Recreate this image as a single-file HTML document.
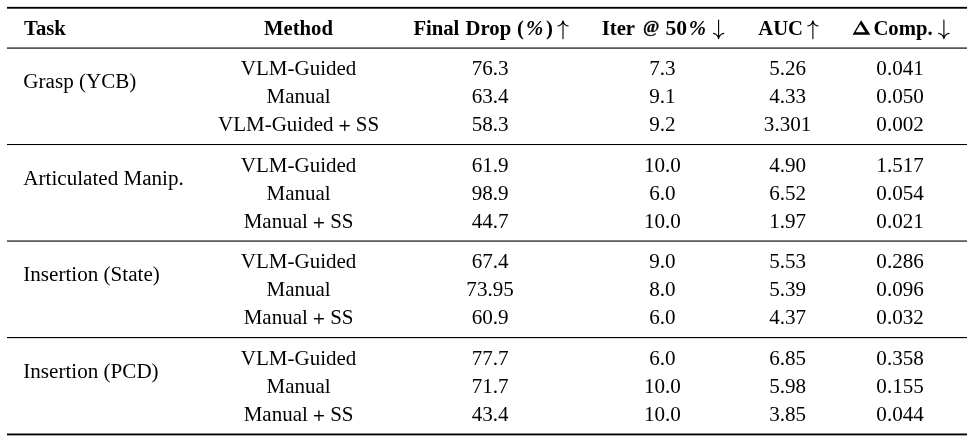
<!DOCTYPE html>
<html><head><meta charset="utf-8"><title>Table</title><style>
html,body{margin:0;padding:0;background:#fff;}
body{width:970px;height:436px;position:relative;overflow:hidden;font-family:"Liberation Serif",serif;font-size:20.85px;line-height:1;color:#000;}
.t{position:absolute;white-space:nowrap;}
.c{transform:translateX(-50%);}
.b{font-weight:bold;font-size:20.7px;}

.at{font-size:17.6px;position:relative;top:-3.2px;-webkit-text-stroke:0.3px #000;}.n5{font-size:21.6px;}.p{position:relative;top:2px;-webkit-text-stroke:0.3px #000;}.m{font-size:21px;}
.k{font-size:21.1px;}.n{font-size:21.1px;}
svg{position:absolute;left:0;top:0;}
#w{position:absolute;left:0;top:0;width:970px;height:436px;will-change:transform;}
</style></head>
<body><div id="w">
<svg width="970" height="436" viewBox="0 0 970 436">
<rect x="7" y="6.85" width="960" height="1.85" fill="#000"/>
<rect x="7" y="47.45" width="960" height="1.28" fill="#1a1a1a"/>
<rect x="7" y="144.0" width="960" height="1.05" fill="#000"/>
<rect x="7" y="240.45" width="960" height="1.25" fill="#1a1a1a"/>
<rect x="7" y="337.0" width="960" height="1.15" fill="#000"/>
<rect x="7" y="433.5" width="960" height="1.85" fill="#000"/>
<path d="M563.00 20.70 L561.90 23.70 L564.10 23.70 Z" fill="#000"/>
<path d="M563.00 21.10 L563.00 38.70 M557.80 26.00 C560.20 25.50 562.50 23.30 563.00 20.80 C563.50 23.30 565.80 25.50 568.20 26.00" fill="none" stroke="#000" stroke-width="1.1" stroke-linecap="round" stroke-linejoin="round"/>
<path d="M718.60 38.70 L717.50 35.70 L719.70 35.70 Z" fill="#000"/>
<path d="M718.60 20.00 L718.60 38.30 M713.40 33.40 C715.80 33.90 718.10 36.10 718.60 38.60 C719.10 36.10 721.40 33.90 723.80 33.40" fill="none" stroke="#000" stroke-width="1.1" stroke-linecap="round" stroke-linejoin="round"/>
<path d="M812.90 20.70 L811.80 23.70 L814.00 23.70 Z" fill="#000"/>
<path d="M812.90 21.10 L812.90 38.70 M807.70 26.00 C810.10 25.50 812.40 23.30 812.90 20.80 C813.40 23.30 815.70 25.50 818.10 26.00" fill="none" stroke="#000" stroke-width="1.1" stroke-linecap="round" stroke-linejoin="round"/>
<path d="M943.90 38.70 L942.80 35.70 L945.00 35.70 Z" fill="#000"/>
<path d="M943.90 20.00 L943.90 38.30 M938.70 33.40 C941.10 33.90 943.40 36.10 943.90 38.60 C944.40 36.10 946.70 33.90 949.10 33.40" fill="none" stroke="#000" stroke-width="1.1" stroke-linecap="round" stroke-linejoin="round"/>
<path fill-rule="evenodd" fill="#000" d="M861.2 20.2 L870.35 34.75 L852.55 34.75 Z M860.35 24.2 L865.3 32.35 L855.6 32.35 Z"/>
</svg>
<div class="t b" id="h_task" style="left:24.05px;top:18.00px">Task</div>
<div class="t b" id="h_method" style="left:264.00px;top:18.00px">Method</div>
<div class="t b" id="h_final" style="left:413.40px;top:18.00px">Final</div>
<div class="t b" id="h_drop" style="left:465.60px;top:18.00px">Drop</div>
<div class="t b" id="h_lp" style="left:517.05px;top:18.00px">(</div>
<div class="t b" id="h_pc1" style="left:526.00px;top:18.00px"><i>%</i></div>
<div class="t b" id="h_rp" style="left:546.00px;top:18.00px">)</div>
<div class="t b" id="h_iter" style="left:601.70px;top:18.00px">Iter</div>
<div class="t b" id="h_at" style="left:642.90px;top:18.00px"><span class="at">@</span></div>
<div class="t b" id="h_n50" style="left:665.55px;top:18.00px"><span class="n5">50</span></div>
<div class="t b" id="h_pc2" style="left:688.75px;top:18.00px"><i>%</i></div>
<div class="t b" id="h_auc" style="left:758.20px;top:18.00px">AUC</div>
<div class="t b" id="h_comp" style="left:873.40px;top:18.00px">Comp.</div>
<div class="t k" style="left:23.3px;top:71.00px">Grasp (YCB)</div>
<div class="t k" style="left:23.3px;top:168.00px">Articulated Manip.</div>
<div class="t k" style="left:23.3px;top:264.00px">Insertion (State)</div>
<div class="t k" style="left:23.3px;top:361.00px">Insertion (PCD)</div>
<div class="t c m" style="left:298.6px;top:58.00px">VLM-Guided</div>
<div class="t c n" style="left:490.1px;top:58.00px">76.3</div>
<div class="t c n" style="left:662.4px;top:58.00px">7.3</div>
<div class="t c n" style="left:787.6px;top:58.00px">5.26</div>
<div class="t c n" style="left:900.1px;top:58.00px">0.041</div>
<div class="t c m" style="left:298.6px;top:86.00px">Manual</div>
<div class="t c n" style="left:490.1px;top:86.00px">63.4</div>
<div class="t c n" style="left:662.4px;top:86.00px">9.1</div>
<div class="t c n" style="left:787.6px;top:86.00px">4.33</div>
<div class="t c n" style="left:900.1px;top:86.00px">0.050</div>
<div class="t c m" style="left:298.6px;top:114.00px">VLM-Guided <span class="p">+</span> SS</div>
<div class="t c n" style="left:490.1px;top:114.00px">58.3</div>
<div class="t c n" style="left:662.4px;top:114.00px">9.2</div>
<div class="t c n" style="left:787.6px;top:114.00px">3.301</div>
<div class="t c n" style="left:900.1px;top:114.00px">0.002</div>
<div class="t c m" style="left:298.6px;top:155.00px">VLM-Guided</div>
<div class="t c n" style="left:490.1px;top:155.00px">61.9</div>
<div class="t c n" style="left:662.4px;top:155.00px">10.0</div>
<div class="t c n" style="left:787.6px;top:155.00px">4.90</div>
<div class="t c n" style="left:900.1px;top:155.00px">1.517</div>
<div class="t c m" style="left:298.6px;top:183.00px">Manual</div>
<div class="t c n" style="left:490.1px;top:183.00px">98.9</div>
<div class="t c n" style="left:662.4px;top:183.00px">6.0</div>
<div class="t c n" style="left:787.6px;top:183.00px">6.52</div>
<div class="t c n" style="left:900.1px;top:183.00px">0.054</div>
<div class="t c m" style="left:298.6px;top:211.00px">Manual <span class="p">+</span> SS</div>
<div class="t c n" style="left:490.1px;top:211.00px">44.7</div>
<div class="t c n" style="left:662.4px;top:211.00px">10.0</div>
<div class="t c n" style="left:787.6px;top:211.00px">1.97</div>
<div class="t c n" style="left:900.1px;top:211.00px">0.021</div>
<div class="t c m" style="left:298.6px;top:251.00px">VLM-Guided</div>
<div class="t c n" style="left:490.1px;top:251.00px">67.4</div>
<div class="t c n" style="left:662.4px;top:251.00px">9.0</div>
<div class="t c n" style="left:787.6px;top:251.00px">5.53</div>
<div class="t c n" style="left:900.1px;top:251.00px">0.286</div>
<div class="t c m" style="left:298.6px;top:279.00px">Manual</div>
<div class="t c n" style="left:490.1px;top:279.00px">73.95</div>
<div class="t c n" style="left:662.4px;top:279.00px">8.0</div>
<div class="t c n" style="left:787.6px;top:279.00px">5.39</div>
<div class="t c n" style="left:900.1px;top:279.00px">0.096</div>
<div class="t c m" style="left:298.6px;top:307.00px">Manual <span class="p">+</span> SS</div>
<div class="t c n" style="left:490.1px;top:307.00px">60.9</div>
<div class="t c n" style="left:662.4px;top:307.00px">6.0</div>
<div class="t c n" style="left:787.6px;top:307.00px">4.37</div>
<div class="t c n" style="left:900.1px;top:307.00px">0.032</div>
<div class="t c m" style="left:298.6px;top:348.00px">VLM-Guided</div>
<div class="t c n" style="left:490.1px;top:348.00px">77.7</div>
<div class="t c n" style="left:662.4px;top:348.00px">6.0</div>
<div class="t c n" style="left:787.6px;top:348.00px">6.85</div>
<div class="t c n" style="left:900.1px;top:348.00px">0.358</div>
<div class="t c m" style="left:298.6px;top:376.00px">Manual</div>
<div class="t c n" style="left:490.1px;top:376.00px">71.7</div>
<div class="t c n" style="left:662.4px;top:376.00px">10.0</div>
<div class="t c n" style="left:787.6px;top:376.00px">5.98</div>
<div class="t c n" style="left:900.1px;top:376.00px">0.155</div>
<div class="t c m" style="left:298.6px;top:404.00px">Manual <span class="p">+</span> SS</div>
<div class="t c n" style="left:490.1px;top:404.00px">43.4</div>
<div class="t c n" style="left:662.4px;top:404.00px">10.0</div>
<div class="t c n" style="left:787.6px;top:404.00px">3.85</div>
<div class="t c n" style="left:900.1px;top:404.00px">0.044</div>
</div></body></html>
